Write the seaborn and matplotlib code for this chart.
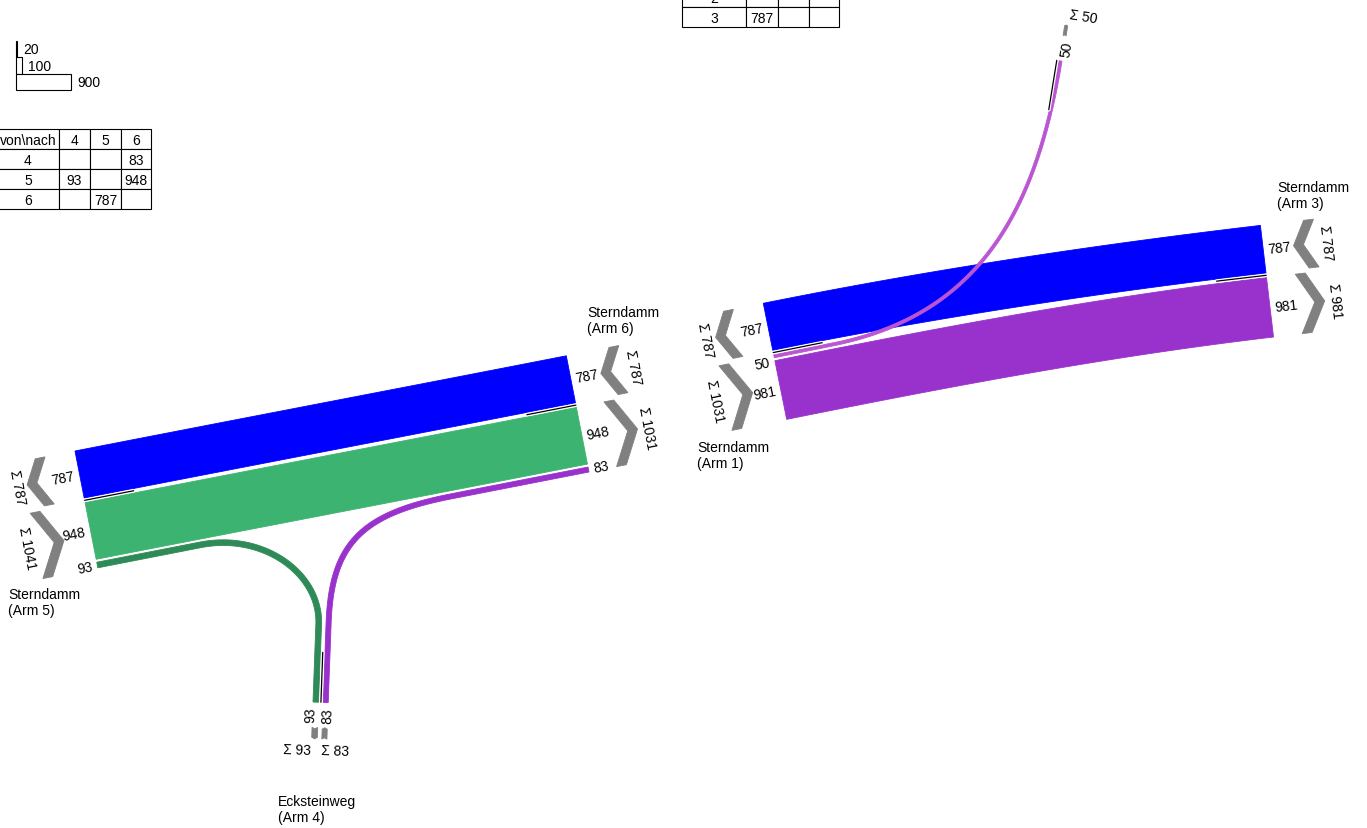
import numpy as np
import pandas as pd
import matplotlib
matplotlib.use("Agg")
import matplotlib.pyplot as plt
from matplotlib.patches import Polygon, Rectangle
import seaborn as sns

sns.set_theme(style="white")
plt.rcParams['font.family'] = ['Liberation Sans', 'DejaVu Sans']
plt.rcParams['text.color'] = 'black'

# ---------------- data ----------------
# Verkehrsströme (von Arm -> nach Arm), Kfz
flow_von = [6, 5, 5, 4, 3, 1, 1]
flow_nach = [5, 6, 4, 6, 1, 3, 2]
flow_menge = [787, 948, 93, 83, 787, 981, 50]
flow_farbe = ['#0000ff', '#3cb371', '#2e8b57', '#9932cc', '#0000ff', '#9932cc', '#ba55d3']

arm_nr = [1, 3, 4, 5, 6]
arm_name = ['Sterndamm', 'Sterndamm', 'Ecksteinweg', 'Sterndamm', 'Sterndamm']

legende_werte = [20, 100, 900]
tab_links_arme = [4, 5, 6]
tab_rechts_arme = [1, 2, 3]

# ---------------- layout ----------------
SCALE = 0.061       # px per Kfz
GAP_LANE = 3.0
GAP_DIV = 4.5
EDGE = 0.6          # pt, widens marks a little like the reference

# arm cross-section: origin (px), direction into junction (deg, y up)
ARM_GEO = {
    5: dict(p0=(75, 452), ang=11.06),
    6: dict(p0=(589, 473), ang=191.06),
    4: dict(p0=(313, 703), ang=87.9),
    1: dict(p0=(763.3, 304.3), ang=11.4),
    3: dict(p0=(1273.5, 338), ang=186.7),
    2: dict(p0=(1062, 62.2), ang=-99.2),
}
# lane order across each arm
LANES = {
    5: [(6, 5), (5, 6), (5, 4)],
    6: [(4, 6), (5, 6), (6, 5)],
    4: [(5, 4), (4, 6)],
    1: [(3, 1), (1, 2), (1, 3)],
    3: [(1, 3), (3, 1)],
    2: [(1, 2)],
}
# path shape: straight run at start/end, bezier handles
PATH = {
    (6, 5): dict(la=0, lb=0, ka=167, kb=167),
    (5, 6): dict(la=0, lb=0, ka=167, kb=167),
    (5, 4): dict(la=105, lb=78, ka=65, kb=50),
    (4, 6): dict(la=80, lb=140, ka=80, kb=90),
    (3, 1): dict(la=0, lb=0, ka=167, kb=167),
    (1, 3): dict(la=0, lb=0, ka=167, kb=167),
    (1, 2): dict(la=60, lb=0, ka=140, kb=165),
}
NUDGE = {((1, 2), 1): 5, ((5, 4), 4): -5, ((4, 6), 4): 2, ((1, 2), 2): -4.5}
NAME_POS = {5: (8, 588), 6: (587, 306), 1: (697, 441), 3: (1277, 181), 4: (278, 795)}
FS = 10

menge = {(v, n): m for v, n, m in zip(flow_von, flow_nach, flow_menge)}
farbe = {(v, n): c for v, n, c in zip(flow_von, flow_nach, flow_farbe)}


def unit(deg):
    r = np.deg2rad(deg)
    return np.array([np.cos(r), -np.sin(r)])


def frame(a):
    g = ARM_GEO[a]
    d = unit(g['ang'])
    return np.array(g['p0'], float), d, np.array([-d[1], d[0]])


def line_angle(a):
    return (ARM_GEO[a]['ang'] + 90) % 180 - 90


# slots along each arm
slots, div_s, groups = {}, {}, {}
for a, order in LANES.items():
    s, prev = 0.0, None
    for key in order:
        out = key[1] == a
        if prev is not None:
            if prev != out:
                div_s[a] = s + GAP_DIV / 2
                s += GAP_DIV
            else:
                s += GAP_LANE
        w = menge[key] * SCALE
        slots[(key, a)] = (s, s + w)
        groups.setdefault((a, out), []).append((key, s, s + w))
        s += w
        prev = out
    if a not in div_s:
        div_s[a] = s + GAP_DIV / 2


def bez(p0, p1, p2, p3, m=150):
    u = np.linspace(0, 1, m)[:, None]
    return (1 - u) ** 3 * p0 + 3 * (1 - u) ** 2 * u * p1 + 3 * (1 - u) * u ** 2 * p2 + u ** 3 * p3


def ribbon(key):
    a, b = key
    pa, da, na = frame(a)
    pb, db, nb = frame(b)
    A = pa + np.mean(slots[(key, a)]) * na
    B = pb + np.mean(slots[(key, b)]) * nb
    pr = PATH[key]
    A2, B2 = A + da * pr['la'], B + db * pr['lb']
    pts = np.vstack([A[None], bez(A2, A2 + da * pr['ka'], B2 + db * pr['kb'], B2), B[None]])
    keep = np.r_[True, np.linalg.norm(np.diff(pts, axis=0), axis=1) > 1e-6]
    pts = pts[keep]
    tg = np.gradient(pts, axis=0)
    tg /= np.linalg.norm(tg, axis=1)[:, None]
    nm = np.c_[-tg[:, 1], tg[:, 0]]
    w = menge[key] * SCALE
    return np.vstack([pts + nm * w / 2, (pts - nm * w / 2)[::-1]])


fig = plt.figure(figsize=(13.67, 8.29), dpi=100)
ax = fig.add_axes([0, 0, 1, 1])

# ribbons
for key in menge:
    z = 5 if key == (1, 2) else 2
    ax.add_patch(Polygon(ribbon(key), closed=True, fc=farbe[key], ec=farbe[key],
                         lw=EDGE, joinstyle='miter', zorder=z))

# dividers: black line with a white halo
rows = []
for a in ARM_GEO:
    p0, d, n = frame(a)
    q0 = p0 + div_s[a] * n
    q1 = q0 + d * 50
    rows += [dict(x=q0[0], y=q0[1], arm=a), dict(x=q1[0], y=q1[1], arm=a)]
div_df = pd.DataFrame(rows)
sns.lineplot(data=div_df, x='x', y='y', units='arm', estimator=None, sort=False,
             color='white', lw=2.6, legend=False, ax=ax, zorder=6)
sns.lineplot(data=div_df, x='x', y='y', units='arm', estimator=None, sort=False,
             color='black', lw=0.9, legend=False, ax=ax, zorder=7)

# chevrons, lane and sum labels
for a in ARM_GEO:
    p0, d, n = frame(a)
    la = line_angle(a)
    rd = unit(la)
    P = lambda t, s: p0 + t * d + s * n
    for out in (True, False):
        if (a, out) not in groups:
            continue
        g = groups[(a, out)]
        s1, s2 = g[0][1], g[-1][2]
        span = s2 - s1
        small = span < 20
        c = 31 if small else 42
        h = 0.27 * span
        sg = -1 if out else 1
        w = 10
        e = -c - sg * h / 2
        ap = -c + sg * h / 2
        sm = (s1 + s2) / 2
        poly = [P(e - w / 2, s1), P(ap - w / 2, sm), P(e - w / 2, s2),
                P(e + w / 2, s2), P(ap + w / 2, sm), P(e + w / 2, s1)]
        ax.add_patch(Polygon(poly, closed=True, fc='#808080', ec='#808080', lw=EDGE, zorder=3))
        total = sum(menge[k] for k, _, _ in g)
        rot = la - 90
        if small:
            rdir = unit(rot)
            pos = np.dot(rdir, n) > 0
            if out:
                ha = 'right' if pos else 'left'
            else:
                ha = 'left' if pos else 'right'
            q = P(-48, s1)
            ax.text(q[0], q[1], f'Σ {total}', rotation=rot, rotation_mode='anchor',
                    ha=ha, va='center', fontsize=FS, zorder=8)
        else:
            q = P(-(c + h / 2 + 15), sm)
            ax.text(q[0], q[1], f'Σ {total}', rotation=rot, rotation_mode='anchor',
                    ha='center', va='center', fontsize=FS, zorder=8)
        for key, a1, a2 in g:
            q = P(-5, (a1 + a2) / 2 + NUDGE.get((key, a), 0))
            ha = 'left' if np.dot(rd, -d) > 0 else 'right'
            ax.text(q[0], q[1], str(menge[key]), rotation=la, rotation_mode='anchor',
                    ha=ha, va='center', fontsize=FS, zorder=8)

# arm names
for nr, name in zip(arm_nr, arm_name):
    x, y = NAME_POS[nr]
    ax.text(x, y, f'{name}\n(Arm {nr})', ha='left', va='top', fontsize=FS, linespacing=1.2)

# legend of widths
tops = [41.5, 58, 74.5]
for v, t in zip(legende_werte, tops):
    wpx = v * SCALE
    ax.add_patch(Rectangle((16, t), wpx, 16.5, fc='white', ec='black', lw=0.8))
    ax.text(16 + wpx + 6, t + 8.5, str(v), ha='left', va='center', fontsize=FS)


# od tables
def od_table(arms, x_edges, top):
    labels = [['von\\nach'] + [str(b) for b in arms]]
    for a in arms:
        labels.append([str(a)] + [str(menge[(a, b)]) if (a, b) in menge else '' for b in arms])
    for r, row in enumerate(labels):
        y0 = top + r * 20
        for cidx, txt in enumerate(row):
            x0, x1 = x_edges[cidx], x_edges[cidx + 1]
            ax.add_patch(Rectangle((x0, y0), x1 - x0, 20, fc='white', ec='black', lw=0.8))
            ax.text((x0 + x1) / 2, y0 + 10.5, txt, ha='center', va='center', fontsize=FS)


od_table(tab_links_arme, [-3, 59, 90, 121, 151], 130)
od_table(tab_rechts_arme, [682, 746, 778, 809, 839], -52)

ax.set_xlim(0, 1367)
ax.set_ylim(829, 0)
ax.axis('off')
fig.savefig('out.png', dpi=100)
